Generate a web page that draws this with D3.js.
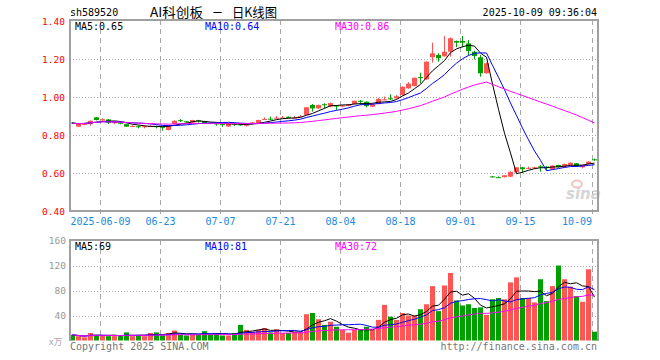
<!DOCTYPE html>
<html><head><meta charset="utf-8">
<script src="https://cdn.jsdelivr.net/npm/d3@7/dist/d3.min.js"></script>
<style>body{margin:0;background:#fff;} svg{display:block;}</style>
</head><body>
<svg id="c" width="660" height="360"></svg>
<script>
const dates = ['05-30','06-03','06-04','06-05','06-06','06-09','06-10','06-11','06-12','06-13','06-16','06-17','06-18','06-19','06-20','06-23','06-24','06-25','06-26','06-27','06-30','07-01','07-02','07-03','07-04','07-07','07-08','07-09','07-10','07-11','07-14','07-15','07-16','07-17','07-18','07-21','07-22','07-23','07-24','07-25','07-28','07-29','07-30','07-31','08-01','08-04','08-05','08-06','08-07','08-08','08-11','08-12','08-13','08-14','08-15','08-18','08-19','08-20','08-21','08-22','08-25','08-26','08-27','08-28','08-29','09-01','09-02','09-03','09-04','09-05','09-08','09-09','09-10','09-11','09-12','09-15','09-16','09-17','09-18','09-19','09-22','09-23','09-24','09-25','09-26','09-29','09-30','10-09'];
const opens = [0.866,0.844,0.853,0.858,0.893,0.877,0.882,0.866,0.865,0.857,0.845,0.846,0.843,0.845,0.847,0.843,0.826,0.858,0.878,0.872,0.865,0.877,0.872,0.864,0.861,0.857,0.845,0.860,0.856,0.851,0.858,0.862,0.881,0.886,0.888,0.890,0.896,0.889,0.897,0.905,0.958,0.940,0.962,0.950,0.955,0.950,0.953,0.963,0.980,0.975,0.949,0.963,0.984,0.993,0.993,1.010,1.046,1.058,1.105,1.093,1.209,1.221,1.214,1.238,1.295,1.295,1.282,1.238,1.209,1.125,0.582,0.578,0.578,0.581,0.604,0.630,0.623,0.626,0.635,0.634,0.620,0.642,0.630,0.642,0.651,0.630,0.647,0.672];
const highs = [0.868,0.860,0.865,0.877,0.895,0.888,0.884,0.872,0.866,0.858,0.852,0.850,0.852,0.852,0.849,0.845,0.853,0.877,0.884,0.874,0.880,0.880,0.874,0.866,0.862,0.858,0.862,0.865,0.858,0.858,0.868,0.880,0.893,0.897,0.900,0.900,0.897,0.900,0.905,0.947,0.963,0.960,0.967,0.970,0.958,0.958,0.963,0.982,0.984,0.977,0.965,0.995,1.002,1.014,1.010,1.056,1.078,1.103,1.128,1.188,1.286,1.230,1.321,1.314,1.297,1.321,1.300,1.244,1.221,1.182,0.585,0.582,0.589,0.608,0.632,0.632,0.634,0.634,0.642,0.635,0.640,0.644,0.650,0.656,0.652,0.644,0.661,0.676];
const lows = [0.858,0.842,0.851,0.849,0.877,0.875,0.858,0.858,0.856,0.842,0.842,0.835,0.835,0.843,0.835,0.823,0.825,0.856,0.869,0.865,0.864,0.865,0.858,0.858,0.849,0.844,0.843,0.847,0.849,0.844,0.857,0.861,0.879,0.879,0.887,0.887,0.888,0.887,0.896,0.904,0.923,0.938,0.940,0.946,0.932,0.946,0.951,0.961,0.958,0.946,0.947,0.961,0.982,0.984,0.991,1.008,1.043,1.056,1.072,1.090,1.181,1.186,1.212,1.212,1.262,1.261,1.221,1.198,1.107,1.123,0.577,0.574,0.576,0.578,0.601,0.600,0.620,0.622,0.607,0.616,0.618,0.628,0.628,0.640,0.632,0.624,0.645,0.665];
const closes = [0.862,0.858,0.862,0.875,0.879,0.883,0.865,0.868,0.860,0.844,0.847,0.844,0.846,0.847,0.843,0.840,0.852,0.875,0.875,0.868,0.879,0.875,0.860,0.860,0.858,0.855,0.861,0.857,0.851,0.854,0.866,0.879,0.884,0.884,0.891,0.892,0.890,0.892,0.899,0.946,0.940,0.958,0.958,0.968,0.952,0.955,0.961,0.980,0.977,0.953,0.963,0.990,0.988,0.990,1.004,1.054,1.070,1.101,1.102,1.186,1.230,1.204,1.238,1.309,1.286,1.286,1.242,1.216,1.125,1.177,0.580,0.577,0.588,0.606,0.630,0.620,0.627,0.630,0.632,0.630,0.639,0.631,0.647,0.654,0.634,0.642,0.660,0.670];
const volumes = [9,7,5,12,9,8,7,7,7,13,7,8,7,12,13,8,12,16,9,8,9,9,15,10,12,8,8,12,25,17,14,17,20,13,18,12,12,13,13,42,44,34,25,30,22,17,12.5,17,17,22,17,33,57,38,33,44,40,40,50,58,87,47,88,108,64,56,58,52,53,41,66,68,66,93,101,68,68,61,98,63,87,120,98,86,71,62,114,14];

const priceTicks = [0.4,0.6,0.8,1.0,1.2,1.4];
const volTicks = [40,80,120,160];
const dateTicks = ['06-09','06-23','07-07','07-21','08-04','08-18','09-01','09-15','10-09'];
const dateTickLabels = ['2025-06-09','06-23','07-07','07-21','08-04','08-18','09-01','09-15','10-09'];
const titleParts = ['AI科创板', '一', '日K线图'];
const priceMaLabels = ['MA5:0.65','MA10:0.64','MA30:0.86'];
const volMaLabels = ['MA5:69','MA10:81','MA30:72'];
const maPeriods = [5,10,30];
const maColors = ['#000000','#0000ff','#ff00ff'];

const UP = '#ff5555', DOWN = '#00a000', GRID = '#a8a8a8', BORDER = '#a0a0a0';
const MONO = "'DejaVu Sans Mono', 'Liberation Mono', monospace";
const CJK = "'Noto Sans CJK SC', sans-serif";

const svg = d3.select('#c');
const L = 70, R = 598;
const x = d3.scaleBand().domain(dates).range([L, L + 6 * dates.length]);
const yP = d3.scaleLinear().domain([0.4, 1.4]).range([211, 21]);
const yV = d3.scaleLinear().domain([0, 160]).range([340.5, 240.5]);

function ma(arr, n) {
  return arr.map((_, i) => {
    const s = Math.max(0, i - n + 1);
    return d3.mean(arr.slice(s, i + 1));
  });
}
const up = dates.map((_, i) => closes[i] >= opens[i]);

// ---------- header ----------
svg.append('text').attr('x', 70).attr('y', 16).attr('font-family', MONO).attr('font-size', 10)
  .attr('fill', '#000').text('sh589520');
[[150, 53], [213, 9], [232, 45]].forEach(([xx, w], k) => {
  svg.append('text').attr('x', xx).attr('y', 17).attr('font-family', CJK).attr('font-size', 13)
    .attr('fill', '#000').attr('textLength', w).attr('lengthAdjust', 'spacingAndGlyphs').text(titleParts[k]);
});
svg.append('text').attr('x', 597).attr('y', 16).attr('text-anchor', 'end').attr('font-family', MONO)
  .attr('font-size', 10).attr('fill', '#000').text('2025-10-09 09:36:04');

// ---------- price panel ----------
const gP = svg.append('g');
gP.selectAll('line.hg').data(priceTicks.filter(t => t > 0.4 && t < 1.4)).join('line')
  .attr('x1', L).attr('x2', R).attr('y1', d => Math.round(yP(d)) + 0.5).attr('y2', d => Math.round(yP(d)) + 0.5)
  .attr('stroke', GRID).attr('stroke-dasharray', '1,2');
gP.selectAll('line.vg').data(dateTicks).join('line')
  .attr('x1', d => x(d) + 0.5).attr('x2', d => x(d) + 0.5).attr('y1', 20).attr('y2', 216)
  .attr('stroke', GRID).attr('stroke-dasharray', '5,4');
gP.selectAll('text.pl').data(priceTicks).join('text')
  .attr('x', 65).attr('y', d => yP(d) + 3.5).attr('text-anchor', 'end')
  .attr('font-family', MONO).attr('font-size', 9.5).attr('fill', '#ff0000').text(d => d.toFixed(2));
gP.selectAll('text.dl').data(dateTicks).join('text')
  .attr('x', (d, i) => x(d) + (i === dateTicks.length - 1 ? 0 : 0.5))
  .attr('y', 225).attr('text-anchor', (d, i) => i === dateTicks.length - 1 ? 'end' : 'middle')
  .attr('font-family', MONO).attr('font-size', 10).attr('fill', '#1a8ae0')
  .text((d, i) => dateTickLabels[i]);

// watermark
gP.append('text').attr('x', 566).attr('y', 199).attr('font-family', "'DejaVu Sans', sans-serif")
  .attr('font-size', 15).attr('font-style', 'italic').attr('font-weight', 'bold')
  .attr('fill', '#d4d4d4').text('sina');
gP.append('ellipse').attr('cx', 577).attr('cy', 184).attr('rx', 5).attr('ry', 3.5)
  .attr('fill', 'none').attr('stroke', '#f3c4c4').attr('stroke-width', 2);

// candles
const cg = gP.append('g');
cg.selectAll('rect.wick').data(dates).join('rect')
  .attr('x', d => x(d) + 2).attr('width', 1)
  .attr('y', (d, i) => yP(highs[i])).attr('height', (d, i) => Math.max(1, yP(lows[i]) - yP(highs[i])))
  .attr('fill', (d, i) => up[i] ? UP : DOWN);
cg.selectAll('rect.body').data(dates).join('rect')
  .attr('x', d => x(d)).attr('width', 5)
  .attr('y', (d, i) => yP(Math.max(opens[i], closes[i])))
  .attr('height', (d, i) => Math.max(1, Math.abs(yP(opens[i]) - yP(closes[i]))))
  .attr('fill', (d, i) => up[i] ? UP : DOWN);

maPeriods.forEach((p, k) => {
  const m = ma(closes, p);
  gP.append('path').datum(dates).attr('fill', 'none').attr('stroke', maColors[k]).attr('stroke-width', 1)
    .attr('d', d3.line().x(d => x(d) + 2.5).y((d, i) => yP(m[i])));
});

gP.append('path').attr('d', `M${L},20H${R}V211H${L}Z`).attr('fill', 'none')
  .attr('stroke', BORDER).attr('stroke-width', 2);

[75, 205, 335].forEach((xx, k) => {
  svg.append('text').attr('x', xx).attr('y', 30).attr('font-family', MONO).attr('font-size', 10)
    .attr('fill', maColors[k]).text(priceMaLabels[k]);
});

// ---------- volume panel ----------
const gV = svg.append('g');
gV.selectAll('line.hg').data(volTicks.filter(t => t < 160)).join('line')
  .attr('x1', L).attr('x2', R).attr('y1', d => Math.round(yV(d)) + 0.5).attr('y2', d => Math.round(yV(d)) + 0.5)
  .attr('stroke', GRID).attr('stroke-dasharray', '1,2');
gV.selectAll('line.vg').data(dateTicks).join('line')
  .attr('x1', d => x(d) + 0.5).attr('x2', d => x(d) + 0.5).attr('y1', 240).attr('y2', 340)
  .attr('stroke', GRID).attr('stroke-dasharray', '5,4');
gV.selectAll('text.vl').data(volTicks).join('text')
  .attr('x', 66).attr('y', d => yV(d) + 3.5).attr('text-anchor', 'end')
  .attr('font-family', MONO).attr('font-size', 9.5).attr('fill', '#999').text(d => d);
gV.append('text').attr('x', 49).attr('y', 345).attr('font-family', CJK)
  .attr('font-size', 9).attr('fill', '#aaa').text('x万');

gV.selectAll('rect.vol').data(dates).join('rect')
  .attr('x', d => x(d)).attr('width', 5)
  .attr('y', (d, i) => yV(volumes[i])).attr('height', (d, i) => yV(0) - yV(volumes[i]))
  .attr('fill', (d, i) => up[i] ? UP : DOWN);

maPeriods.forEach((p, k) => {
  const m = ma(volumes, p);
  gV.append('path').datum(dates).attr('fill', 'none').attr('stroke', maColors[k]).attr('stroke-width', 1)
    .attr('d', d3.line().x(d => x(d) + 2.5).y((d, i) => yV(m[i])));
});

gV.append('path').attr('d', `M${L},341V240H${R}V341`).attr('fill', 'none')
  .attr('stroke', BORDER).attr('stroke-width', 2);

[75, 205, 335].forEach((xx, k) => {
  svg.append('text').attr('x', xx).attr('y', 250).attr('font-family', MONO).attr('font-size', 10)
    .attr('fill', maColors[k]).text(volMaLabels[k]);
});

svg.append('text').attr('x', 70).attr('y', 350).attr('font-family', MONO).attr('font-size', 10)
  .attr('fill', '#777').text('Copyright 2025 SINA.COM');
svg.append('text').attr('x', 597).attr('y', 350).attr('text-anchor', 'end').attr('font-family', MONO)
  .attr('font-size', 10).attr('fill', '#777').text('http://finance.sina.com.cn');
</script>
</body></html>
